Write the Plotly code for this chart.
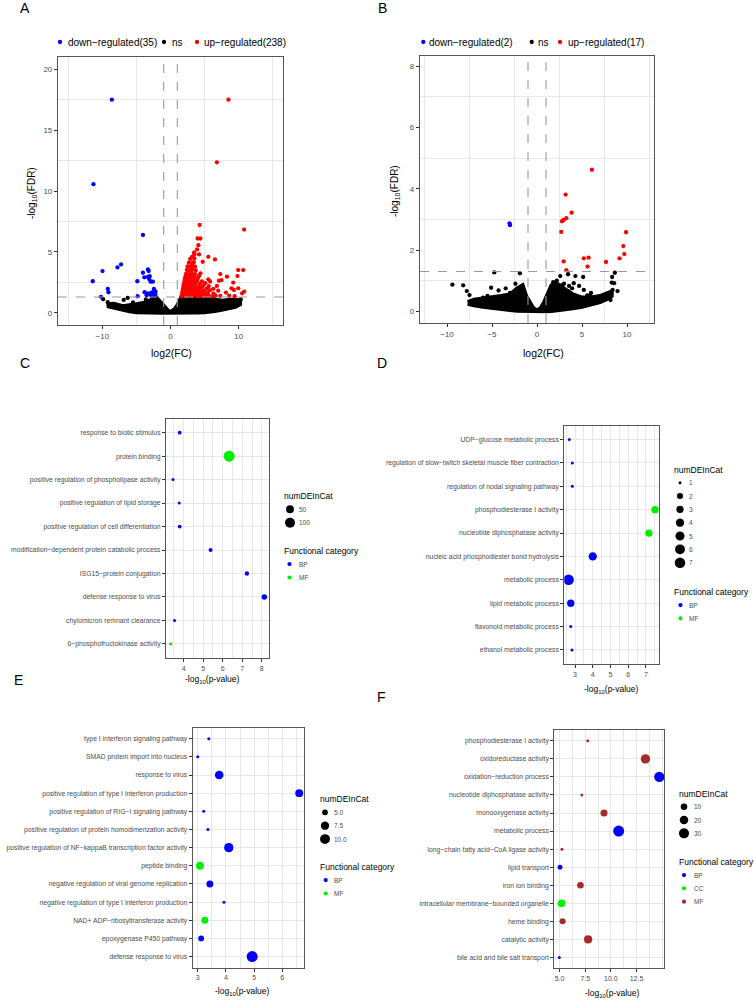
import math
import plotly.graph_objects as go

# ---------------- DATA ----------------
# Panel A volcano (log2FC, -log10 FDR)
down_A_x = [-8.6, -11.3, -4.04, -7.25, -7.78, -9.97, -11.4, -9.2, -9.1, -10.2, -4.82, -4.86, -4.04, -3.31,
            -3.2, -3.84, -3.31, -3.11, -2.58, -2.92, -3.8, -3.4, -2.82, -2.43, -2.6, -2.4, -2.8, -2.3,
            -2.5, -2.7, -2.2, -2.9, -3.5, -2.2, -3.05]
down_A_y = [17.5, 10.56, 6.39, 3.97, 3.73, 3.43, 2.59, 1.96, 1.69, 1.31, 1.36, 2.59, 3.29, 3.56,
            3.43, 2.91, 2.94, 2.75, 2.56, 2.56, 1.69, 1.6, 1.66, 1.96, 1.45, 1.55, 1.4, 1.4,
            1.7, 1.6, 1.5, 1.5, 1.45, 1.75, 3.0]
up_A = [
    (1.6, 1.36), (2.0, 1.42), (2.4, 1.35), (2.8, 1.45), (3.2, 1.38), (3.6, 1.44), (4.0, 1.36), (4.4, 1.41),
    (4.8, 1.37), (5.2, 1.46), (5.6, 1.39), (6.1, 1.35), (6.6, 1.43), (7.3, 1.38), (8.6, 1.40), (9.4, 1.36),
    (1.7, 1.62), (2.1, 1.58), (2.5, 1.66), (2.9, 1.55), (3.3, 1.63), (3.7, 1.57), (4.1, 1.65), (4.6, 1.6),
    (5.0, 1.54), (5.5, 1.67), (6.3, 1.58), (8.13, 1.66), (10.5, 1.6),
    (1.8, 1.82), (2.2, 1.76), (2.6, 1.85), (3.0, 1.78), (3.4, 1.84), (3.9, 1.75), (4.3, 1.83), (4.9, 1.79),
    (5.8, 1.86), (7.0, 1.82), (9.3, 1.88), (10.8, 1.74),
    (1.85, 2.02), (2.25, 1.96), (2.65, 2.05), (3.05, 1.98), (3.5, 2.04), (4.0, 1.97), (4.6, 2.06),
    (5.3, 1.99), (6.3, 1.97), (8.95, 2.01), (9.93, 2.01),
    (1.9, 2.22), (2.3, 2.16), (2.7, 2.25), (3.1, 2.18), (3.55, 2.24), (4.1, 2.17), (4.8, 2.23), (5.6, 2.19),
    (6.8, 2.21),
    (2.0, 2.42), (2.4, 2.36), (2.8, 2.45), (3.2, 2.38), (3.7, 2.44), (4.3, 2.37), (5.1, 2.43), (9.2, 2.48),
    (2.05, 2.62), (2.45, 2.56), (2.85, 2.65), (3.3, 2.58), (3.9, 2.64), (4.6, 2.57), (5.8, 2.57), (7.1, 2.64),
    (2.1, 2.82), (2.5, 2.76), (2.9, 2.85), (3.4, 2.78), (4.0, 2.84), (5.55, 2.75), (7.49, 2.69), (8.28, 2.97),
    (2.2, 3.02), (2.6, 2.96), (3.0, 3.05), (3.5, 2.98), (4.2, 3.04), (9.82, 3.02),
    (2.3, 3.22), (2.7, 3.16), (3.1, 3.25), (3.6, 3.18), (4.4, 3.24), (7.3, 3.18),
    (2.4, 3.52), (2.8, 3.46), (3.2, 3.55), (3.7, 3.48), (9.93, 3.51), (10.66, 3.51),
    (2.5, 3.82), (2.9, 3.76), (3.3, 3.85), (3.6, 3.78),
    (2.7, 4.12), (3.1, 4.06), (3.5, 4.46), (4.72, 4.19),
    (2.9, 4.42), (3.4, 4.15), (6.52, 4.38),
    (3.2, 4.62), (5.55, 4.6), (3.5, 4.8), (4.19, 4.79),
    (3.46, 4.95), (3.9, 5.2), (4.09, 5.55), (3.98, 6.1), (4.38, 6.1), (4.28, 7.21), (10.8, 6.83),
    (6.8, 12.35), (8.5, 17.5),
]
up_A_x = [p[0] for p in up_A]
up_A_y = [p[1] for p in up_A]
ns_A_x = [-9.88, -9.2, -9.1, -6.86, -6.28, 9.5, 10.3, 9.9, -5.5, -3.6]
ns_A_y = [1.12, 0.87, 0.62, 1.06, 1.22, 0.92, 1.1, 0.75, 0.85, 1.1]
band_A_x = [-9.3, -8.3, -7.0, -6.0, -5.0, -4.0, -3.0, -2.5, -2.0, -1.5, -1.2, -1.0, -0.6, -0.3, 0.0,
            0.3, 0.6, 1.0, 1.3, 1.6, 2.0, 3.0, 4.0, 5.0, 6.0, 6.5, 7.5, 8.5, 9.5, 10.2]
band_A_hi = [0.7, 0.75, 0.55, 0.6, 0.7, 0.8, 1.0, 1.25, 1.2, 0.9, 0.7, 0.5, 0.3, 0.15, 0.08,
             0.15, 0.3, 0.6, 1.0, 1.28, 1.3, 1.3, 1.3, 1.28, 1.25, 1.1, 1.0, 1.05, 1.1, 1.0]
band_A_lo = [0.55, 0.45, 0.25, 0.12, 0.05, 0.02, 0.01, 0.0, 0.0, 0.0, 0.0, 0.0, 0.0, 0.0, 0.0,
             0.0, 0.0, 0.0, 0.0, 0.0, 0.0, 0.0, 0.02, 0.05, 0.1, 0.15, 0.25, 0.35, 0.5, 0.7]

# Panel B volcano
down_B_x = [-3.05, -3.0]
down_B_y = [2.87, 2.81]
up_B_x = [6.1, 3.18, 3.85, 3.26, 2.96, 2.77, 2.70, 9.89, 9.59, 9.70, 9.17, 5.2, 5.73, 7.67, 2.96, 5.62, 3.26]
up_B_y = [4.62, 3.81, 3.22, 3.04, 2.98, 2.94, 2.59, 2.58, 2.13, 1.87, 1.73, 1.73, 1.75, 1.61, 1.63, 1.46, 1.34]
ns_B_x = [-9.4, -8.2, -7.8, -7.5, -4.75, -1.9, -5.1, -4.27, -3.48, -2.4, -1.7, -6.0, -5.5, -3.0,
          2.58, 3.45, 4.27, 5.13, 8.65, 8.35, 8.95, 8.17, 2.7, 4.08, 4.68, 5.58, 3.48, 2.2, 1.8, 3.9,
          6.0, 8.57, 8.3, 8.4, 3.0, 5.2, 5.88, 3.56]
ns_B_y = [0.87, 0.85, 0.66, 0.53, 1.27, 1.24, 0.77, 0.68, 0.75, 0.9, 0.77, 0.45, 0.5, 0.6,
          1.15, 1.21, 1.15, 1.12, 1.26, 1.12, 0.66, 0.37, 0.85, 0.92, 0.83, 0.52, 0.65, 1.0, 0.95, 0.75,
          0.6, 0.92, 0.94, 0.7, 0.9, 0.7, 0.5, 0.83]
band_B_x = [-7.7, -7.0, -6.0, -5.0, -4.0, -3.0, -2.2, -1.6, -1.2, -0.8, -0.4, 0.0, 0.4, 0.8, 1.2, 1.6,
            2.2, 3.0, 4.0, 5.0, 6.0, 7.0, 7.8, 8.3]
band_B_hi = [0.3, 0.38, 0.42, 0.45, 0.5, 0.55, 0.75, 0.85, 0.5, 0.3, 0.1, 0.03, 0.1, 0.3, 0.6, 0.85,
             0.9, 0.75, 0.55, 0.45, 0.45, 0.5, 0.6, 0.65]
band_B_lo = [0.25, 0.2, 0.15, 0.1, 0.07, 0.04, 0.02, 0.01, 0.0, 0.0, 0.0, 0.0, 0.0, 0.0, 0.0, 0.01,
             0.02, 0.05, 0.1, 0.15, 0.22, 0.3, 0.4, 0.5]
fc_cut = 1.0
fdr_cut = 0.05
n_down_A, n_up_A = 35, 238
n_down_B, n_up_B = 2, 17

# Panel C GO enrichment
terms_C = ["response to biotic stimulus", "protein binding", "positive regulation of phospholipase activity",
           "positive regulation of lipid storage", "positive regulation of cell differentiation",
           "modification\u2212dependent protein catabolic process", "ISG15\u2212protein conjugation",
           "defense response to virus", "chylomicron remnant clearance", "6\u2212phosphofructokinase activity"]
p_C = [3.80, 6.33, 3.46, 3.78, 3.80, 5.38, 7.24, 8.13, 3.54, 3.34]
n_C = [4, 130, 3, 3, 4, 5, 7, 16, 3, 3]
cat_C = ["BP", "MF", "BP", "BP", "BP", "BP", "BP", "BP", "BP", "MF"]

# Panel D
terms_D = ["UDP\u2212glucose metabolic process", "regulation of slow\u2212twitch skeletal muscle fiber contraction",
           "regulation of nodal signaling pathway", "phosphodiesterase I activity",
           "nucleotide diphosphatase activity", "nucleic acid phosphodiester bond hydrolysis",
           "metabolic process", "lipid metabolic process", "flavonoid metabolic process",
           "ethanol metabolic process"]
p_D = [2.68, 2.85, 2.85, 7.51, 7.17, 4.00, 2.64, 2.76, 2.76, 2.83]
n_D = [1, 1, 1, 3, 3, 4, 7, 3, 1, 1]
cat_D = ["BP", "BP", "BP", "MF", "MF", "BP", "BP", "BP", "BP", "BP"]

# Panel E
terms_E = ["type I interferon signaling pathway", "SMAD protein import into nucleus", "response to virus",
           "positive regulation of type I interferon production",
           "positive regulation of RIG\u2212I signaling pathway",
           "positive regulation of protein homodimerization activity",
           "positive regulation of NF\u2212kappaB transcription factor activity", "peptide binding",
           "negative regulation of viral genome replication",
           "negative regulation of type I interferon production",
           "NAD+ ADP\u2212ribosyltransferase activity", "epoxygenase P450 pathway", "defense response to virus"]
p_E = [3.39, 3.0, 3.76, 6.60, 3.21, 3.36, 4.10, 3.08, 3.43, 3.93, 3.25, 3.12, 4.93]
n_E = [4, 4, 8, 7, 4, 4, 9, 7, 6, 4, 6, 5, 12]
cat_E = ["BP", "BP", "BP", "BP", "BP", "BP", "BP", "MF", "BP", "BP", "MF", "BP", "BP"]

# Panel F
terms_F = ["phosphodiesterase I activity", "oxidoreductase activity", "oxidation\u2212reduction process",
           "nucleotide diphosphatase activity", "monooxygenase activity", "metabolic process",
           "long\u2212chain fatty acid\u2212CoA ligase activity", "lipid transport", "iron ion binding",
           "intracellular membrane\u2212bounded organelle", "heme binding", "catalytic activity",
           "bile acid and bile salt transport"]
p_F = [7.75, 13.37, 14.72, 7.17, 9.33, 10.76, 5.23, 5.04, 7.03, 5.19, 5.29, 7.78, 4.97]
n_F = [3, 25, 32, 3, 12, 38, 3, 5, 10, 15, 8, 18, 3]
cat_F = ["MF", "MF", "BP", "MF", "MF", "BP", "MF", "BP", "MF", "CC", "MF", "MF", "BP"]

size_breaks = {"C": [50, 100], "D": [1, 2, 3, 4, 5, 6, 7], "E": [5.0, 7.5, 10.0], "F": [10, 20, 30]}
size_break_labels = {"C": ["50", "100"], "D": ["1", "2", "3", "4", "5", "6", "7"],
                     "E": ["5.0", "7.5", "10.0"], "F": ["10", "20", "30"]}

# ---------------- STYLE / LAYOUT ----------------
W, H = 755, 1002
FONT = "Liberation Sans, Arial, sans-serif"
TXT = "#4d4d4d"
GRID = "#e8e8e8"
BORDER = "#555555"
C_BLUE, C_RED, C_BLACK = "#0000FF", "#FF0000", "#000000"
CAT_COL = {"BP": "#0000FF", "MF": "#00EE00"}
CAT_COL_F = {"BP": "#0000FF", "CC": "#00EE00", "MF": "#A52A2A"}


def fx(p):
    return p / W


def fy(p):
    return 1 - p / H


geom = {  # left, right, top, bottom (px)
    "A": (58, 283, 57, 325),
    "B": (420, 654, 56, 323),
    "C": (166, 269, 418.6, 658),
    "D": (564.3, 659.3, 425.5, 664),
    "E": (192.7, 304.3, 727.8, 967.5),
    "F": (554.3, 664.3, 730, 968.3),
}
axid = {"A": "", "B": "2", "C": "3", "D": "4", "E": "5", "F": "6"}

fig = go.Figure()


def dom(panel):
    l, r, t, b = geom[panel]
    return [fx(l), fx(r)], [fy(b), fy(t)]


def add_text(x, y, s, size, color="black", anchor="left", angle=0):
    fig.add_annotation(x=fx(x), y=fy(y), xref="paper", yref="paper", text=s, showarrow=False,
                       xanchor=anchor, yanchor="middle", textangle=angle, borderpad=0,
                       font=dict(family=FONT, size=size, color=color))


def add_dot(cx, cy, d, color):
    fig.add_shape(type="circle", xref="paper", yref="paper", xsizemode="pixel", ysizemode="pixel",
                  xanchor=fx(cx), yanchor=fy(cy), x0=-d / 2, x1=d / 2, y0=-d / 2, y1=d / 2,
                  fillcolor=color, line=dict(width=0), layer="above")


# ---------- volcano panels ----------
def volcano(panel, bx, bhi, blo, nsx, nsy, dx_, dy_, ux, uy, xr, yr, xdt, ydt):
    i = axid[panel]
    xa, ya = "x" + i, "y" + i
    fig.add_trace(go.Scatter(x=bx + bx[::-1], y=bhi + blo[::-1], fill="toself", mode="lines",
                             fillcolor=C_BLACK, line=dict(color=C_BLACK, width=4),
                             xaxis=xa, yaxis=ya, hoverinfo="skip", showlegend=False))
    for xs, ys, col in [(nsx, nsy, C_BLACK), (dx_, dy_, C_BLUE), (ux, uy, C_RED)]:
        fig.add_trace(go.Scatter(x=xs, y=ys, mode="markers",
                                 marker=dict(color=col, size=4.3, opacity=1, line=dict(width=0)),
                                 xaxis=xa, yaxis=ya, showlegend=False))
    xd, yd = dom(panel)
    axis_common = dict(showline=True, mirror=True, linecolor=BORDER, linewidth=1.2, zeroline=False,
                       showgrid=False, ticks="outside", ticklen=3, tickcolor="#333333",
                       tickfont=dict(family=FONT, size=8, color=TXT))
    fig.update_layout(**{
        "xaxis" + i: dict(domain=xd, range=xr, dtick=xdt, tick0=0, anchor=ya,
                          minor=dict(dtick=xdt / 2, showgrid=True, gridcolor=GRID, gridwidth=1), **axis_common),
        "yaxis" + i: dict(domain=yd, range=yr, dtick=ydt, tick0=0, anchor=xa,
                          minor=dict(dtick=ydt / 2, showgrid=True, gridcolor=GRID, gridwidth=1), **axis_common),
    })
    thr = -math.log10(fdr_cut)
    dash = dict(color="#9a9a9a", width=1.1, dash="dash")
    for v in (-fc_cut, fc_cut):
        fig.add_shape(type="line", xref=xa, yref=ya + " domain", x0=v, x1=v, y0=0, y1=1, line=dash)
    fig.add_shape(type="line", xref=xa + " domain", yref=ya, x0=0, x1=1, y0=thr, y1=thr, line=dash)


volcano("A", band_A_x, band_A_hi, band_A_lo, ns_A_x, ns_A_y, down_A_x, down_A_y, up_A_x, up_A_y,
        [-16.5, 16.5], [-1, 21], 10, 5)
volcano("B", band_B_x, band_B_hi, band_B_lo, ns_B_x, ns_B_y, down_B_x, down_B_y, up_B_x, up_B_y,
        [-13, 13], [-0.38, 8.33], 5, 2)

# volcano legends and titles
for (nd, nu, pos) in [(n_down_A, n_up_A, (60, 66.5, 164, 171, 197, 203)),
                      (n_down_B, n_up_B, (423.3, 428, 531.7, 537, 560, 567))]:
    add_dot(pos[0], 42, 4.3, C_BLUE)
    add_text(pos[1], 42, "down\u2212regulated(%d)" % nd, 10)
    add_dot(pos[2], 42, 4.3, C_BLACK)
    add_text(pos[3], 42, "ns", 10)
    add_dot(pos[4], 42, 4.3, C_RED)
    add_text(pos[5], 42, "up\u2212regulated(%d)" % nu, 10)

add_text(171, 353, "log2(FC)", 10.5, anchor="center")
add_text(543, 353, "log2(FC)", 10.5, anchor="center")
add_text(32, 193, "-log<sub>10</sub>(FDR)", 10, anchor="center", angle=-90)
add_text(395, 191, "-log<sub>10</sub>(FDR)", 10, anchor="center", angle=-90)


# ---------- GO bubble panels ----------
def diam(v, vmin, vmax, dmin, dmax):
    return dmin + (dmax - dmin) * math.sqrt(max(v - vmin, 0) / (vmax - vmin))


def bubble(panel, terms, pv, nv, cats, colmap, xdt, tickfmt, dmax):
    i = axid[panel]
    xa, ya = "x" + i, "y" + i
    vmin, vmax = min(nv), max(nv)
    for c in colmap:
        idx = [k for k in range(len(terms)) if cats[k] == c]
        if not idx:
            continue
        fig.add_trace(go.Scatter(
            x=[pv[k] for k in idx], y=[terms[k] for k in idx], mode="markers",
            marker=dict(color=colmap[c], size=[diam(nv[k], vmin, vmax, 3.0, dmax) for k in idx],
                        opacity=1, line=dict(width=0)),
            xaxis=xa, yaxis=ya, showlegend=False))
    lo, hi = min(pv), max(pv)
    sp = hi - lo
    # major breaks only inside the data limits (as ggplot does)
    k0, k1 = math.ceil(lo / xdt - 1e-9), math.floor(hi / xdt + 1e-9)
    tv = [k * xdt for k in range(k0, k1 + 1)]
    tt = [format(v, tickfmt) if tickfmt else "%g" % v for v in tv]
    xd, yd = dom(panel)
    n = len(terms)
    common = dict(showline=True, mirror=True, linecolor=BORDER, linewidth=1.2, zeroline=False,
                  ticks="outside", ticklen=3, tickcolor="#333333", gridcolor=GRID, gridwidth=1, showgrid=True)
    fig.update_layout(**{
        "xaxis" + i: dict(domain=xd, range=[lo - 0.05 * sp, hi + 0.05 * sp], tickmode="array",
                          tickvals=tv, ticktext=tt, anchor=ya,
                          minor=dict(tickmode="linear", tick0=0, dtick=xdt / 2, showgrid=True,
                                     gridcolor=GRID, gridwidth=1),
                          tickfont=dict(family=FONT, size=7, color=TXT), **common),
        "yaxis" + i: dict(domain=yd, type="category", categoryorder="array", categoryarray=terms[::-1],
                          range=[-0.6, n - 0.4], anchor=xa,
                          tickfont=dict(family=FONT, size=6.8, color=TXT), **common),
    })
    return vmin, vmax


bubble_cfg = {
    "C": (terms_C, p_C, n_C, cat_C, CAT_COL, 1, "", 11),
    "D": (terms_D, p_D, n_D, cat_D, CAT_COL, 1, "", 10.5),
    "E": (terms_E, p_E, n_E, cat_E, CAT_COL, 1, "", 11),
    "F": (terms_F, p_F, n_F, cat_F, CAT_COL_F, 2.5, ".1f", 11),
}
# legend placement: title x, size-title y, first item y, step, circle x, label x, cat-title y, dot x
leg = {
    "C": (283, 495.7, 509.3, 13.4, 290, 297.5, 550.7, 289.5),
    "D": (673.3, 470, 482.7, 13.33, 680, 688, 591.7, 680.5),
    "E": (319, 799, 812.3, 13.4, 325, 332.5, 866.7, 325.7),
    "F": (677.7, 794, 806.7, 13.33, 684, 692.7, 861.7, 684),
}
xtitle_pos = {"C": (212, 679), "D": (611.7, 689), "E": (242, 991.7), "F": (612.8, 993)}

for pnl, cfg in bubble_cfg.items():
    terms, pv, nv, cats, colmap, xdt, tf, dmax = cfg
    vmin, vmax = bubble(pnl, terms, pv, nv, cats, colmap, xdt, tf, dmax)
    tx, ty0, iy0, step, cx, lx, cty, dxp = leg[pnl]
    add_text(tx, ty0, "numDEInCat", 8.5)
    for j, (b, lab) in enumerate(zip(size_breaks[pnl], size_break_labels[pnl])):
        yy = iy0 + j * step
        add_dot(cx, yy, diam(b, vmin, vmax, 3.0, dmax), C_BLACK)
        add_text(lx, yy, lab, 6.5, color=TXT)
    add_text(tx, cty, "Functional category", 8.5)
    present = [c for c in colmap if c in cats]
    for j, c in enumerate(present):
        yy = cty + step + j * step
        add_dot(dxp, yy, 4.2, colmap[c])
        add_text(lx, yy, c, 6.5, color=TXT)
    xt, yt = xtitle_pos[pnl]
    add_text(xt, yt, "-log<sub>10</sub>(p-value)", 8.5, anchor="center")

# panel letters
for lab, (x, y) in {"A": (19, 8.5), "B": (377, 8.5), "C": (19, 363), "D": (376, 363),
                    "E": (13, 679.5), "F": (376, 697)}.items():
    add_text(x, y, lab, 14)

fig.update_layout(width=W, height=H, margin=dict(l=0, r=0, t=0, b=0), autosize=False,
                  paper_bgcolor="white", plot_bgcolor="white", showlegend=False,
                  font=dict(family=FONT))

fig.write_html("out.html", config={"displayModeBar": False},
               post_script="document.body.style.margin='0px';document.body.style.overflow='hidden';")
